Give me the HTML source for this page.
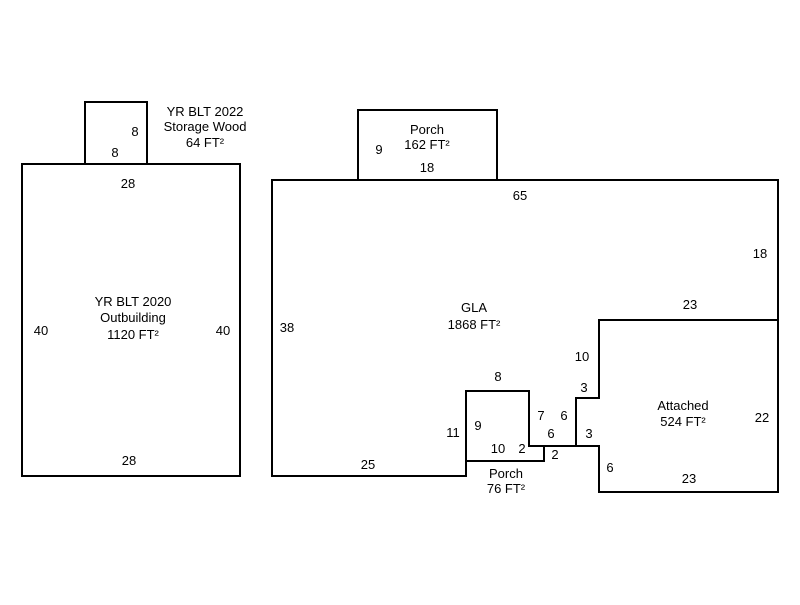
<!DOCTYPE html>
<html><head><style>body{margin:0;background:#fff}svg text{font-family:"Liberation Sans",Arial,sans-serif;font-size:13px;fill:#000;text-anchor:middle}</style></head>
<body>
<svg width="800" height="600" viewBox="0 0 800 600" xmlns="http://www.w3.org/2000/svg">
<g fill="none" stroke="#000" stroke-width="2">
<rect x="22" y="164" width="218" height="312"/>
<rect x="85" y="102" width="62" height="62"/>
<rect x="358" y="110" width="139" height="70"/>
<polygon points="272,180 778,180 778,320 599,320 599,398 576,398 576,446 529,446 529,391 466,391 466,476 272,476"/>
<polygon points="599,320 778,320 778,492 599,492 599,446 576,446 576,398 599,398"/>
<polyline points="466,461 544,461 544,446"/>
</g>
<text x="205" y="116">YR BLT 2022</text>
<text x="205" y="131">Storage Wood</text>
<text x="205" y="147">64 FT²</text>
<text x="135" y="136">8</text>
<text x="115" y="157">8</text>
<text x="128" y="188">28</text>
<text x="133" y="306">YR BLT 2020</text>
<text x="133" y="322">Outbuilding</text>
<text x="133" y="339">1120 FT²</text>
<text x="41" y="335">40</text>
<text x="223" y="335">40</text>
<text x="129" y="465">28</text>
<text x="427" y="134">Porch</text>
<text x="427" y="149">162 FT²</text>
<text x="379" y="154">9</text>
<text x="427" y="172">18</text>
<text x="520" y="200">65</text>
<text x="760" y="258">18</text>
<text x="287" y="332">38</text>
<text x="474" y="312">GLA</text>
<text x="474" y="329">1868 FT²</text>
<text x="690" y="309">23</text>
<text x="582" y="361">10</text>
<text x="584" y="392">3</text>
<text x="498" y="381">8</text>
<text x="541" y="420">7</text>
<text x="564" y="420">6</text>
<text x="478" y="430">9</text>
<text x="453" y="437">11</text>
<text x="551" y="438">6</text>
<text x="589" y="438">3</text>
<text x="498" y="453">10</text>
<text x="522" y="453">2</text>
<text x="555" y="459">2</text>
<text x="683" y="410">Attached</text>
<text x="683" y="426">524 FT²</text>
<text x="762" y="422">22</text>
<text x="610" y="472">6</text>
<text x="368" y="469">25</text>
<text x="506" y="478">Porch</text>
<text x="506" y="493">76 FT²</text>
<text x="689" y="483">23</text>
</svg>
</body></html>
